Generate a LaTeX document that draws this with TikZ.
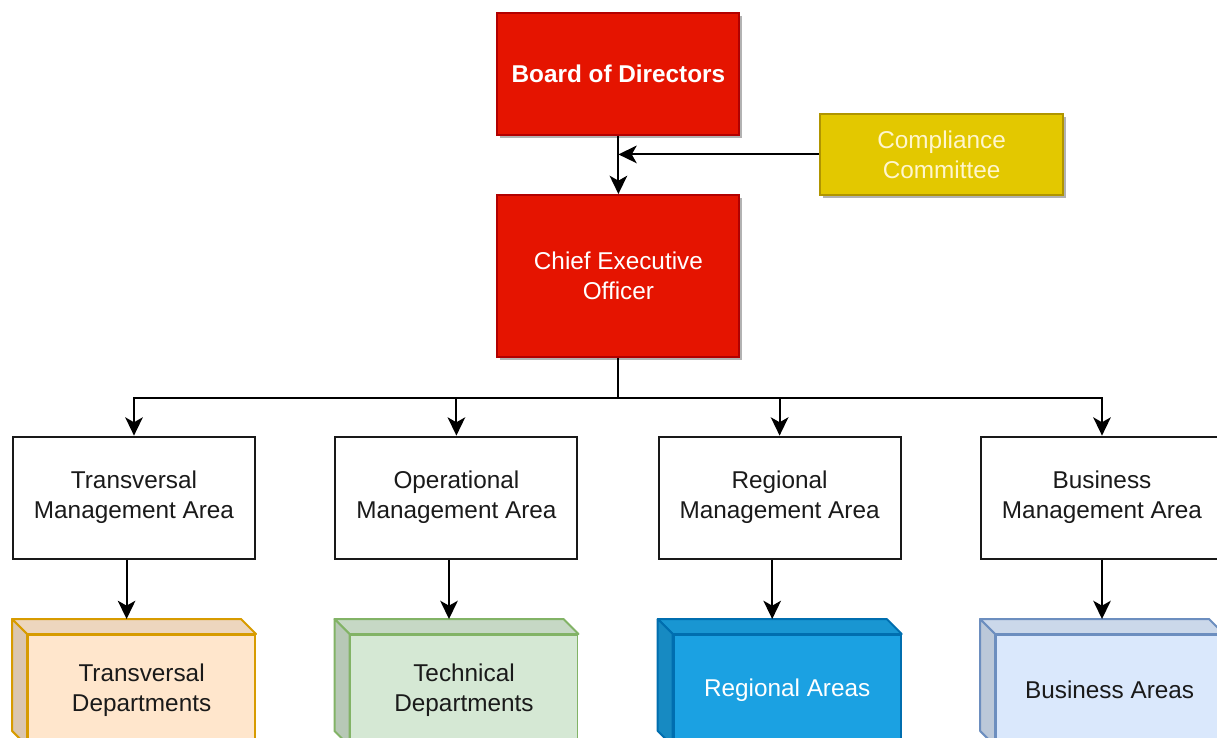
\documentclass[tikz,border=0pt]{standalone}
\usepackage{fontspec}
\setmainfont{Liberation Sans}
\usepackage{tikz}
\usetikzlibrary{arrows.meta, positioning, calc, shadows}
\usepackage{xcolor}
\definecolor{boardred}{HTML}{E51400}
\definecolor{boardedge}{HTML}{B20000}
\definecolor{compyellow}{HTML}{E3C800}
\definecolor{compedge}{HTML}{B09500}
\definecolor{comptext}{RGB}{255, 246, 205}
\definecolor{darktext}{HTML}{1A1A1A}
\definecolor{transfill}{HTML}{FFE6CC}
\definecolor{transedge}{HTML}{D79B00}
\definecolor{techfill}{HTML}{D5E8D4}
\definecolor{techedge}{HTML}{82B366}
\definecolor{regfill}{HTML}{1BA1E2}
\definecolor{regedge}{HTML}{006EAF}
\definecolor{busfill}{HTML}{DAE8FC}
\definecolor{busedge}{HTML}{6C8EBF}

\newcommand{\boxfont}{\fontsize{17.3}{21.4}\selectfont}
% top and side faces of a box drawn as a cube
\newcommand{\cubefaces}[3]{%
  \filldraw[fill=#2!93!black, draw=#3, line width=1.4pt, line join=round]
    (#1.north west) -- ++(-0.375,0.375) -- ($(#1.north east)+(-0.375,0.375)$)
    -- (#1.north east) -- cycle;
  \filldraw[fill=#2!86!black, draw=#3, line width=1.4pt, line join=round]
    (#1.north west) -- ++(-0.375,0.375) -- ($(#1.south west)+(-0.375,0.375)$)
    -- (#1.south west) -- cycle;
  \coordinate (#1-top) at ($(#1.north)+(-0.375,0.375)$);
}

\begin{document}
\begin{tikzpicture}[
    orgbox/.style={draw, line width=1.4pt, minimum width=6.05cm,
                   minimum height=3.05cm, align=center, font=\boxfont,
                   inner sep=0pt},
    topbox/.style={orgbox, drop shadow={shadow xshift=2pt, shadow yshift=-2pt,
                   opacity=0.3, fill=black}},
    areabox/.style={orgbox, fill=white, draw=black!90, text=darktext},
    cube/.style={draw, line width=1.4pt, minimum width=5.675cm,
                 minimum height=2.75cm, align=center, font=\boxfont,
                 inner sep=0pt},
    arrow/.style={-{Stealth[length=13pt, width=12.5pt, inset=3.5pt]}, line width=1.4pt},
  ]
    \useasboundingbox (0,0) rectangle (30.425,-18.45);

    % Board and CEO
    \node[topbox, fill=boardred, draw=boardedge, text=white,
          font=\boxfont\bfseries] (board) at (15.46,-1.85) {Board of Directors};
    \node[topbox, fill=boardred, draw=boardedge, text=white,
          minimum height=4.05cm] (ceo) at (15.46,-6.9) {Chief Executive\\Officer};
    \node[topbox, fill=compyellow, draw=compedge, text=comptext,
          minimum width=6.075cm, minimum height=2.025cm] (comp) at (23.54,-3.86)
      {Compliance\\Committee};

    \draw[arrow] (board.south) -- (ceo.north);
    \draw[arrow] (comp.west) -- (board.south |- comp.west);

    % Management areas
    \node[areabox] (transmgmt) at (3.35,-12.44) {Transversal\\Management Area};
    \node[areabox] (opmgmt) at (11.41,-12.44) {Operational\\Management Area};
    \node[areabox] (regmgmt) at (19.49,-12.44) {Regional\\Management Area};
    \node[areabox] (busmgmt) at (27.55,-12.44) {Business\\Management Area};

    \coordinate (bus) at ($(ceo.south)+(0,-1)$);
    \draw[line width=1.4pt] (ceo.south) -- (bus);
    \draw[arrow] (bus) -| (transmgmt.north);
    \draw[arrow] (bus) -| (opmgmt.north);
    \draw[arrow] (bus) -| (regmgmt.north);
    \draw[arrow] (bus) -| (busmgmt.north);

    % Departments and areas
    \node[cube, fill=transfill, draw=transedge, text=darktext] (transdep)
      at (3.54,-17.25) {Transversal\\Departments};
    \cubefaces{transdep}{transfill}{transedge}
    \node[cube, fill=techfill, draw=techedge, text=darktext] (techdep)
      at (11.6,-17.25) {Technical\\Departments};
    \cubefaces{techdep}{techfill}{techedge}
    \node[cube, fill=regfill, draw=regedge, text=white] (regarea)
      at (19.68,-17.25) {Regional Areas};
    \cubefaces{regarea}{regfill}{regedge}
    \node[cube, fill=busfill, draw=busedge, text=darktext] (busarea)
      at (27.74,-17.25) {Business Areas};
    \cubefaces{busarea}{busfill}{busedge}

    \draw[arrow] (transmgmt.south -| transdep-top) -- (transdep-top);
    \draw[arrow] (opmgmt.south -| techdep-top) -- (techdep-top);
    \draw[arrow] (regmgmt.south -| regarea-top) -- (regarea-top);
    \draw[arrow] (busmgmt.south) -- (busmgmt.south |- busarea-top);
  \end{tikzpicture}
\end{document}
